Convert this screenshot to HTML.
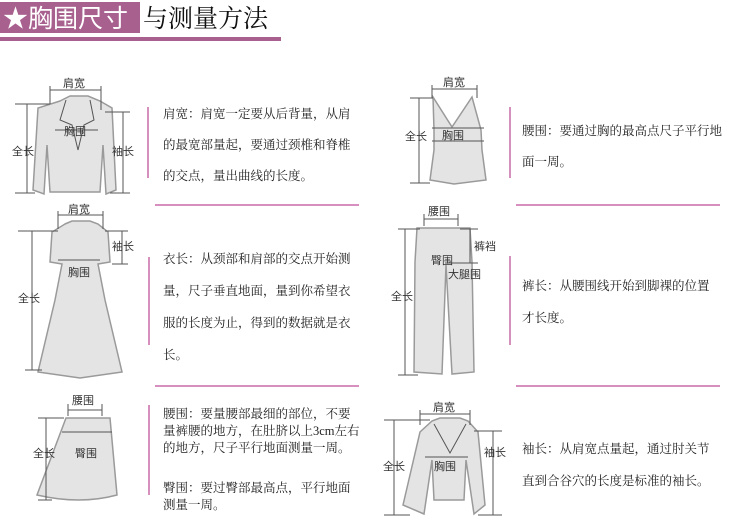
<!DOCTYPE html>
<html><head><meta charset="utf-8"><style>
html,body{margin:0;padding:0;background:#fff;width:750px;height:529px;overflow:hidden}
svg{display:block}
.t{font-family:"Liberation Serif","Noto Serif CJK SC",serif;font-size:12.5px;fill:#222}
.l{font-family:"Liberation Sans","Noto Sans CJK SC",sans-serif;font-size:11px;fill:#333}
.g{fill:#e4e4e4;stroke:#9a9a9a;stroke-width:1.5}
.d{stroke:#555;stroke-width:1;fill:none}
.p{stroke:#c86aa8;stroke-width:1.5}
</style></head><body>
<svg width="750" height="529" viewBox="0 0 750 529" xmlns="http://www.w3.org/2000/svg">
<rect x="0" y="2" width="140" height="31" fill="#a8608f"/>
<rect x="0" y="37" width="281" height="4" fill="#a8608f"/>
<text x="3" y="27" font-family="'Liberation Sans','Noto Sans CJK SC',sans-serif" font-size="25" fill="#fff">★胸围尺寸</text>
<text x="143" y="27" font-family="'Liberation Serif','Noto Serif CJK SC',serif" font-size="25" fill="#111">与测量方法</text>

<!-- pink lines -->
<line class="p" x1="148" y1="107" x2="148" y2="178"/>
<line class="p" x1="155" y1="205" x2="359" y2="205"/>
<line class="p" x1="149" y1="257" x2="149" y2="345"/>
<line class="p" x1="155" y1="386" x2="359" y2="386"/>
<line class="p" x1="149" y1="405" x2="149" y2="495"/>
<line class="p" x1="510" y1="107" x2="510" y2="178"/>
<line class="p" x1="516" y1="205" x2="720" y2="205"/>
<line class="p" x1="510" y1="256" x2="510" y2="345"/>
<line class="p" x1="516" y1="386" x2="720" y2="386"/>

<!-- texts left -->
<text class="t" x="163" y="118">肩宽：肩宽一定要从后背量，从肩</text>
<text class="t" x="163" y="149">的最宽部量起，要通过颈椎和脊椎</text>
<text class="t" x="163" y="180">的交点，量出曲线的长度。</text>
<text class="t" x="163" y="263">衣长：从颈部和肩部的交点开始测</text>
<text class="t" x="163" y="295">量，尺子垂直地面，量到你希望衣</text>
<text class="t" x="163" y="327">服的长度为止，得到的数据就是衣</text>
<text class="t" x="163" y="359">长。</text>
<text class="t" x="163" y="418">腰围：要量腰部最细的部位，不要</text>
<text class="t" x="163" y="435">量裤腰的地方，在肚脐以上3cm左右</text>
<text class="t" x="163" y="452">的地方，尺子平行地面测量一周。</text>
<text class="t" x="163" y="492">臀围：要过臀部最高点，平行地面</text>
<text class="t" x="163" y="509">测量一周。</text>
<!-- texts right -->
<text class="t" x="522" y="135">腰围：要通过胸的最高点尺子平行地</text>
<text class="t" x="522" y="166">面一周。</text>
<text class="t" x="522" y="290">裤长：从腰围线开始到脚裸的位置</text>
<text class="t" x="522" y="322">才长度。</text>
<text class="t" x="522" y="453">袖长：从肩宽点量起，通过肘关节</text>
<text class="t" x="522" y="485">直到合谷穴的长度是标准的袖长。</text>

<!-- jacket -->
<path class="g" d="M60 101 L70 96 L88 96 L100 101 L112 108 L116 190 L106 194 L103 145 L100 192 L50 192 L47 145 L44 194 L33 190 L38 108 Z"/>
<path class="d" d="M66 100 L60 120 L72 125 L78 150 L84 125 L94 120 L90 100" stroke="#999"/>
<line class="d" x1="50" y1="90" x2="101" y2="90"/><line class="d" x1="50" y1="86" x2="50" y2="104"/><line class="d" x1="101" y1="86" x2="101" y2="110"/>
<text class="l" x="63" y="87">肩宽</text>
<line class="d" x1="27" y1="104" x2="27" y2="193"/><line class="d" x1="15" y1="104" x2="50" y2="104"/><line class="d" x1="15" y1="193" x2="35" y2="193"/>
<text class="l" x="12" y="155">全长</text>
<line class="d" x1="123" y1="112" x2="123" y2="193"/><line class="d" x1="105" y1="112" x2="130" y2="112"/><line class="d" x1="110" y1="193" x2="130" y2="193"/>
<text class="l" x="112" y="155">袖长</text>
<line class="d" x1="55" y1="130" x2="98" y2="130"/>
<text class="l" x="64" y="135">胸围</text>

<!-- dress -->
<path class="g" d="M65 224 L72 221 L90 221 L98 224 L108 232 L110 262 L98 264 L105 300 L122 372 L80 378 L38 372 L55 300 L62 264 L50 262 L52 232 Z"/>
<line class="d" x1="58" y1="215" x2="103" y2="215"/><line class="d" x1="58" y1="211" x2="58" y2="229"/><line class="d" x1="103" y1="211" x2="103" y2="229"/>
<text class="l" x="68" y="213">肩宽</text>
<line class="d" x1="32" y1="231" x2="32" y2="370"/><line class="d" x1="18" y1="231" x2="58" y2="231"/><line class="d" x1="25" y1="370" x2="42" y2="370"/>
<text class="l" x="18" y="302">全长</text>
<line class="d" x1="122" y1="231" x2="122" y2="264"/><line class="d" x1="105" y1="231" x2="128" y2="231"/><line class="d" x1="112" y1="264" x2="128" y2="264"/>
<text class="l" x="112" y="250">袖长</text>
<line class="d" x1="58" y1="260" x2="100" y2="260"/>
<text class="l" x="68" y="276">胸围</text>

<!-- skirt -->
<path class="g" d="M66 418 L110 418 L117 495 Q80 505 37 495 Z"/>
<line class="d" x1="62" y1="432" x2="112" y2="432" stroke="#999"/>
<line class="d" x1="68" y1="410" x2="102" y2="410"/><line class="d" x1="68" y1="404" x2="68" y2="416"/><line class="d" x1="102" y1="404" x2="102" y2="416"/>
<text class="l" x="72" y="404">腰围</text>
<line class="d" x1="46" y1="418" x2="46" y2="500"/><line class="d" x1="38" y1="418" x2="64" y2="418"/><line class="d" x1="38" y1="500" x2="52" y2="500"/>
<text class="l" x="33" y="457">全长</text>
<text class="l" x="75" y="457">臀围</text>

<!-- tank -->
<path class="g" d="M433 97 L452 127 L472 97 L481 130 L482 150 L486 180 L454 184 L430 180 L434 150 L434 130 Z"/>
<line class="d" x1="432" y1="128" x2="484" y2="128" stroke="#777"/><line class="d" x1="432" y1="141" x2="484" y2="141" stroke="#777"/>
<line class="d" x1="432" y1="89" x2="477" y2="89"/><line class="d" x1="432" y1="85" x2="432" y2="98"/><line class="d" x1="477" y1="85" x2="477" y2="98"/>
<text class="l" x="443" y="86">肩宽</text>
<line class="d" x1="419" y1="98" x2="419" y2="183"/><line class="d" x1="410" y1="98" x2="433" y2="98"/><line class="d" x1="410" y1="183" x2="430" y2="183"/>
<text class="l" x="405" y="140">全长</text>
<text class="l" x="442" y="139">胸围</text>

<!-- pants -->
<path class="g" d="M417 228 L470 228 L472 262 L474 372 L452 374 L446 265 L442 374 L414 372 L415 262 Z"/>
<line class="d" x1="424" y1="219" x2="458" y2="219"/><line class="d" x1="424" y1="214" x2="424" y2="226"/><line class="d" x1="458" y1="214" x2="458" y2="226"/>
<text class="l" x="428" y="215">腰围</text>
<line class="d" x1="405" y1="229" x2="405" y2="375"/><line class="d" x1="398" y1="229" x2="420" y2="229"/><line class="d" x1="398" y1="375" x2="418" y2="375"/>
<text class="l" x="391" y="300">全长</text>
<line class="d" x1="470" y1="229" x2="470" y2="263"/><line class="d" x1="460" y1="229" x2="478" y2="229"/><line class="d" x1="445" y1="263" x2="478" y2="263"/>
<text class="l" x="474" y="250">裤裆</text>
<text class="l" x="431" y="264">臀围</text>
<text class="l" x="448" y="278">大腿围</text>

<!-- sweater -->
<path class="g" d="M432 421 L440 418 L460 418 L468 421 L478 432 L485 505 L474 514 L466 460 L464 500 L434 500 L432 460 L424 514 L403 505 L420 432 Z"/>
<path class="d" d="M434 424 L450 453 L466 424" stroke="#888"/>
<line class="d" x1="420" y1="414" x2="470" y2="414"/><line class="d" x1="420" y1="410" x2="420" y2="425"/><line class="d" x1="470" y1="410" x2="470" y2="425"/>
<text class="l" x="433" y="411">肩宽</text>
<line class="d" x1="394" y1="420" x2="394" y2="515"/><line class="d" x1="384" y1="420" x2="430" y2="420"/><line class="d" x1="384" y1="515" x2="410" y2="515"/>
<text class="l" x="383" y="470">全长</text>
<line class="d" x1="493" y1="431" x2="493" y2="515"/><line class="d" x1="474" y1="431" x2="502" y2="431"/><line class="d" x1="478" y1="515" x2="502" y2="515"/>
<text class="l" x="484" y="456">袖长</text>
<line class="d" x1="425" y1="457" x2="468" y2="457"/>
<text class="l" x="434" y="470">胸围</text>
</svg>
</body></html>
